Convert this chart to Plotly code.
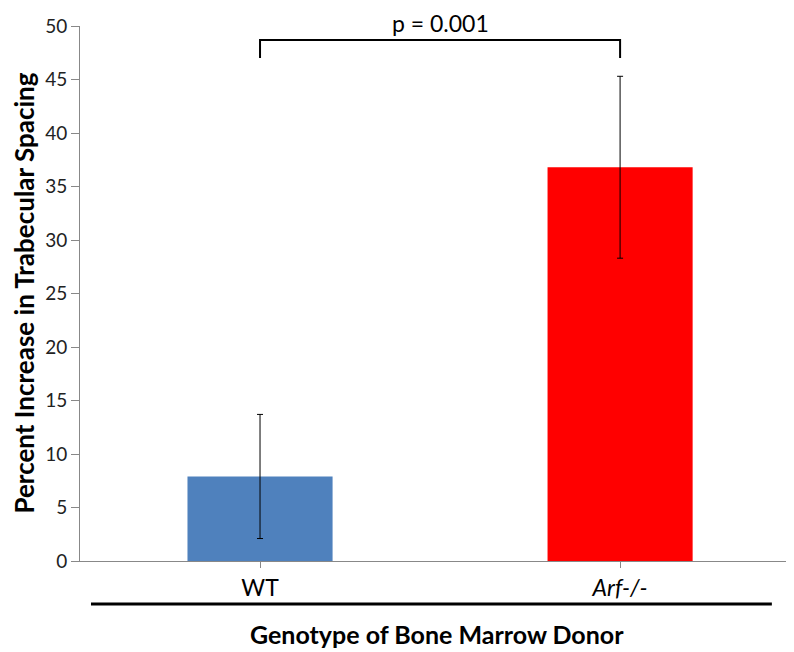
import plotly.graph_objects as go

categories = ["WT", "Arf-/-"]
tick_labels = ["WT", "<i>Arf-/-</i>"]
values = [7.9, 36.8]
errors = [5.8, 8.5]
colors = ["#4F81BD", "#FF0000"]
bracket_y = [47.0, 48.7]
p_text = "p = 0.001"
y_ticks = [0, 5, 10, 15, 20, 25, 30, 35, 40, 45, 50]

FONT = "Lato, 'Open Sans', sans-serif"

fig = go.Figure()
fig.add_trace(go.Bar(
    x=[0, 1], y=values,
    marker=dict(color=colors, line=dict(width=0)),
    width=0.403,
    error_y=dict(type="data", array=errors, visible=True, color="black", thickness=1, width=3),
))

# significance bracket
fig.add_shape(type="path",
              path=f"M 0,{bracket_y[0]} L 0,{bracket_y[1]} L 1,{bracket_y[1]} L 1,{bracket_y[0]}",
              xref="x", yref="y", line=dict(color="black", width=2))
fig.add_annotation(x=0.5, y=1.006, xref="x", yref="paper", text=p_text, showarrow=False,
                   font=dict(family=FONT, size=23, color="black"), yanchor="middle", borderpad=0)

# line under category labels
fig.add_shape(type="line", xref="paper", yref="paper", x0=0.0154, x1=0.969, y0=-0.0804, y1=-0.0804,
              line=dict(color="black", width=3))
fig.add_annotation(x=0.5, y=-0.1364, xref="paper", yref="paper", text="<b>Genotype of Bone Marrow Donor</b>",
                   showarrow=False, font=dict(family=FONT, size=25, color="black"), yanchor="middle")
fig.add_annotation(x=-0.0798, y=0.5, xref="paper", yref="paper",
                   text="<b>Percent Increase in Trabecular Spacing</b>", textangle=-90,
                   showarrow=False, font=dict(family=FONT, size=26, color="black"),
                   xanchor="center", yanchor="middle")

fig.update_layout(
    width=786, height=644,
    margin=dict(l=72, r=0, t=18, b=91),
    plot_bgcolor="white", paper_bgcolor="white",
    showlegend=False,
    font=dict(family=FONT, color="black"),
    xaxis=dict(range=[-0.5, 1.483], tickmode="array", tickvals=[0, 1], ticktext=tick_labels,
               showline=True, linecolor="#888888", linewidth=1, ticks="outside", tickson="boundaries",
               ticklen=6, tickcolor="#888888", showgrid=False, zeroline=False, automargin=False,
               tickfont=dict(family=FONT, size=23, color="black")),
    yaxis=dict(range=[0, 50], tickvals=y_ticks,
               showline=True, linecolor="#888888", linewidth=1, ticks="outside", ticklen=8,
               tickcolor="#888888", showgrid=False, zeroline=False, automargin=False,
               tickfont=dict(family=FONT, size=19, color="#222222")),
)

fig.write_html("out.html")
